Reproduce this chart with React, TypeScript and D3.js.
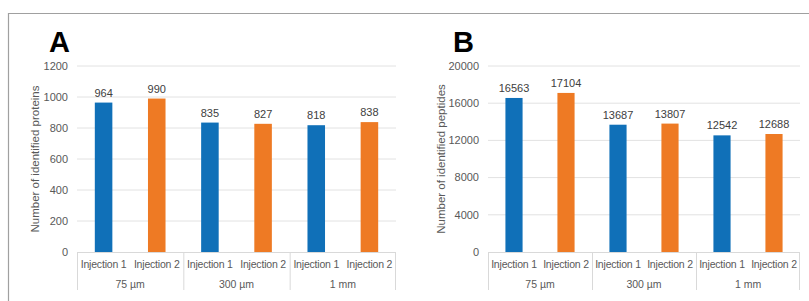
import React from "react";
import * as d3 from "d3";

const injections = ["Injection 1", "Injection 2"];
const groups = ["75 µm", "300 µm", "1 mm"];
const proteins = [964, 990, 835, 827, 818, 838];
const peptides = [16563, 17104, 13687, 13807, 12542, 12688];
const proteinTicks = [0, 200, 400, 600, 800, 1000, 1200];
const peptideTicks = [0, 4000, 8000, 12000, 16000, 20000];

const BLUE = "#1070b8";
const ORANGE = "#ee7a24";
const FONT = "'Liberation Sans', Arial, sans-serif";

type PanelProps = {
  letter: string;
  title: string;
  values: number[];
  ticks: number[];
  x0: number;
  x1: number;
  letterX: number;
  titleX: number;
};

function Panel({ letter, title, values, ticks, x0, x1, letterX, titleX }: PanelProps) {
  const yTop = 66;
  const yBot = 252;
  const y = d3.scaleLinear().domain([0, ticks[ticks.length - 1]]).range([yBot, yTop]);
  const cats = groups.flatMap((g) => injections.map((i) => `${g}|${i}`));
  const x = d3.scaleBand().domain(cats).range([x0, x1]).paddingInner(0.67).paddingOuter(0.335);
  const groupScale = d3.scaleBand().domain(groups).range([x0, x1]);
  return (
    <g fontFamily={FONT}>
      <text x={letterX} y={52} fontSize={29} fontWeight="bold" fill="#000">{letter}</text>
      {ticks.map((t) => (
        <g key={t}>
          {t > 0 && <line x1={x0} x2={x1} y1={y(t)} y2={y(t)} stroke="#e2e2e2" strokeWidth={1} />}
          <text x={x0 - 9} y={y(t)} dy="0.35em" textAnchor="end" fontSize={11} fill="#595959">{t}</text>
        </g>
      ))}
      <text
        transform={`translate(${titleX},${(yTop + yBot) / 2}) rotate(-90)`}
        textAnchor="middle"
        dy="0.35em"
        fontSize={11.5}
        fill="#595959"
      >
        {title}
      </text>
      {values.map((v, i) => (
        <g key={i}>
          <rect
            x={x(cats[i])!}
            y={y(v)}
            width={x.bandwidth()}
            height={yBot - y(v)}
            fill={i % 2 === 0 ? BLUE : ORANGE}
          />
          <text
            x={x(cats[i])! + x.bandwidth() / 2}
            y={y(v) - 6}
            textAnchor="middle"
            fontSize={11}
            fill="#404040"
          >
            {v}
          </text>
        </g>
      ))}
      <line x1={x0} x2={x1} y1={yBot + 0.5} y2={yBot + 0.5} stroke="#d9d9d9" />
      {groups.map((g) => {
        const gx = groupScale(g)!;
        const gw = groupScale.bandwidth();
        return (
          <g key={g}>
            <line x1={gx + 0.5} x2={gx + 0.5} y1={yBot} y2={290} stroke="#d9d9d9" />
            {injections.map((inj, k) => (
              <text
                key={inj}
                x={gx + gw * (k * 2 + 1) / 4}
                y={268}
                textAnchor="middle"
                fontSize={10.5}
                letterSpacing={-0.2}
                fill="#595959"
              >
                {inj}
              </text>
            ))}
            <text x={gx + gw / 2} y={288} textAnchor="middle" fontSize={10.5} fill="#595959">{g}</text>
          </g>
        );
      })}
      <line x1={x1 - 0.5} x2={x1 - 0.5} y1={yBot} y2={290} stroke="#d9d9d9" />
    </g>
  );
}

export default function App() {
  return (
    <svg width={809} height={301} style={{ position: "absolute", left: 0, top: 0, background: "#fff" }}>
      <rect x={0} y={0} width={809} height={301} fill="#fff" />
      <line x1={8} x2={809} y1={13.5} y2={13.5} stroke="#a0a0a0" strokeWidth={1.2} />
      <line x1={8.5} x2={8.5} y1={13} y2={301} stroke="#a0a0a0" strokeWidth={1.2} />
      <Panel
        letter="A"
        title="Number of identified proteins"
        values={proteins}
        ticks={proteinTicks}
        x0={77}
        x1={396}
        letterX={49}
        titleX={35}
      />
      <Panel
        letter="B"
        title="Number of identified peptides"
        values={peptides}
        ticks={peptideTicks}
        x0={488}
        x1={800}
        letterX={453}
        titleX={441}
      />
    </svg>
  );
}
